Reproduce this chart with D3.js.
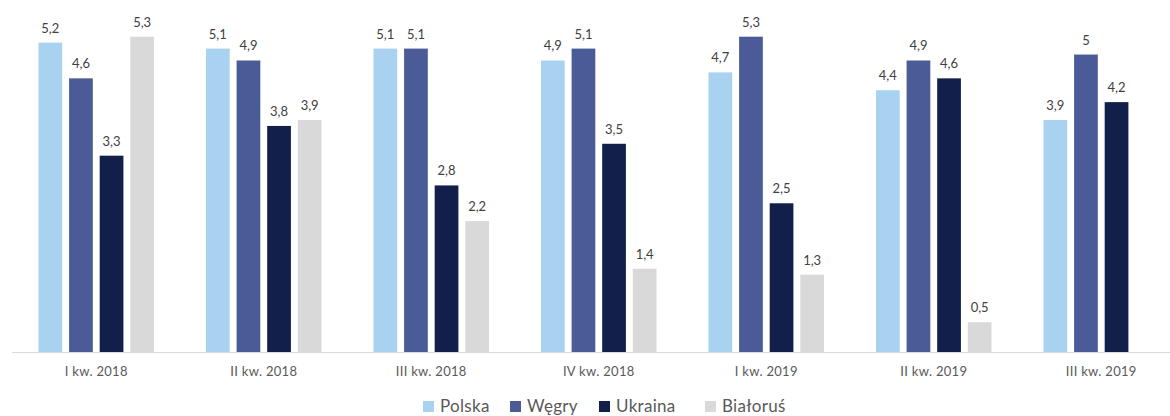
<!DOCTYPE html>
<html>
<head>
<meta charset="utf-8">
<script src="https://cdn.jsdelivr.net/npm/d3@7"></script>
<style>
  body { margin: 0; background: #fff; }
  svg text { font-family: Lato, "Open Sans", sans-serif; }
</style>
</head>
<body>
<svg id="chart" width="1170" height="416"></svg>
<script>
// kwartały
var quarters = ["I kw. 2018", "II kw. 2018", "III kw. 2018", "IV kw. 2018", "I kw. 2019", "II kw. 2019", "III kw. 2019"];
var seriesNames = ["Polska", "Węgry", "Ukraina", "Białoruś"];
var polska   = [5.2, 5.1, 5.1, 4.9, 4.7, 4.4, 3.9];
var wegry    = [4.6, 4.9, 5.1, 5.1, 5.3, 4.9, 5];
var ukraina  = [3.3, 3.8, 2.8, 3.5, 2.5, 4.6, 4.2];
var bialorus = [5.3, 3.9, 2.2, 1.4, 1.3, 0.5, null];
var colors = ["#A9D2F0", "#4A5B98", "#111F4A", "#D9D9D9"];

var svg = d3.select("#chart");
var allSeries = [polska, wegry, ukraina, bialorus];

var x0 = d3.scaleBand().domain(quarters).range([12.5, 1185]).paddingInner(0).paddingOuter(0);
var x1 = d3.scaleBand().domain(seriesNames).range([x0.bandwidth()/2 - 61.2, x0.bandwidth()/2 + 61.2]).paddingInner(0.225).paddingOuter(0.1125);
var y = d3.scaleLinear().domain([0, 5.3]).range([352, 36.7]);

var fmt = function(v){ return String(v).replace(".", ","); };

var groups = svg.selectAll("g.grp")
    .data(quarters)
    .enter().append("g")
    .attr("class", "grp")
    .attr("transform", function(d){ return "translate(" + x0(d) + ",0)"; });

groups.each(function(q, qi){
  var g = d3.select(this);
  var rows = seriesNames.map(function(s, si){ return {name: s, value: allSeries[si][qi], color: colors[si]}; })
                        .filter(function(r){ return r.value != null; });
  g.selectAll("rect").data(rows).enter().append("rect")
    .attr("x", function(r){ return x1(r.name); })
    .attr("width", x1.bandwidth())
    .attr("y", function(r){ return y(r.value); })
    .attr("height", function(r){ return y(0) - y(r.value); })
    .attr("fill", function(r){ return r.color; });
  g.selectAll("text.val").data(rows).enter().append("text")
    .attr("class", "val")
    .attr("x", function(r){ return x1(r.name) + x1.bandwidth()/2; })
    .attr("y", function(r){ return y(r.value) - 10; })
    .attr("text-anchor", "middle")
    .attr("font-size", "13px")
    .attr("fill", "#404040")
    .text(function(r){ return fmt(r.value); });
});

// oś X
svg.append("line")
  .attr("x1", 12).attr("x2", 1170)
  .attr("y1", y(0) + 0.5).attr("y2", y(0) + 0.5)
  .attr("stroke", "#D9D9D9").attr("stroke-width", 1);

svg.selectAll("text.cat").data(quarters).enter().append("text")
  .attr("class", "cat")
  .attr("x", function(d){ return x0(d) + x0.bandwidth()/2; })
  .attr("y", 376)
  .attr("text-anchor", "middle")
  .attr("font-size", "13px")
  .attr("letter-spacing", "0.3px")
  .attr("fill", "#595959")
  .text(function(d){ return d; });

// legenda
var legX = [423, 510, 599, 705];
var leg = svg.selectAll("g.leg").data(seriesNames).enter().append("g")
  .attr("class", "leg")
  .attr("transform", function(d, i){ return "translate(" + legX[i] + ",401)"; });
leg.append("rect").attr("width", 11).attr("height", 11)
  .attr("fill", function(d, i){ return colors[i]; });
leg.append("text").attr("x", 17).attr("y", 11)
  .attr("font-size", "17px")
  .attr("letter-spacing", "0.3px")
  .attr("fill", "#595959")
  .text(function(d){ return d; });
</script>
</body>
</html>
